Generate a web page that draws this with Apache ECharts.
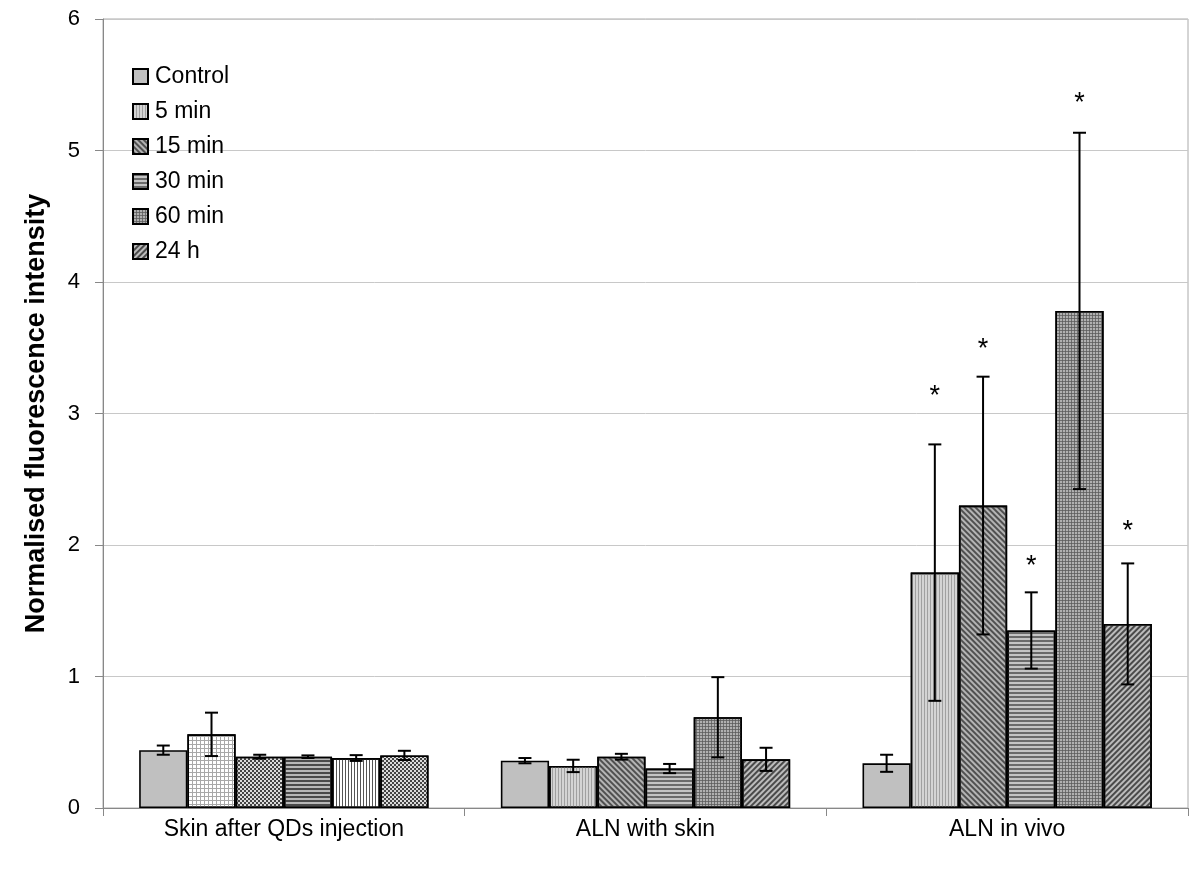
<!DOCTYPE html>
<html>
<head>
<meta charset="utf-8">
<script src="https://cdn.jsdelivr.net/npm/echarts@6/dist/echarts.min.js"></script>
<style>html,body{margin:0;padding:0;background:#fff;}#c{width:1200px;height:881px;}</style>
</head>
<body>
<div id="c"></div>
<script>
// ---- data ----
const categories = ['Skin after QDs injection', 'ALN with skin', 'ALN in vivo'];
const seriesNames = ['Control', '5 min', '15 min', '30 min', '60 min', '24 h'];
const controlVals = [0.44, 0.36, 0.34];
const min5Vals    = [0.56, 0.32, 1.79];
const min15Vals   = [0.39, 0.39, 2.30];
const min30Vals   = [0.39, 0.30, 1.35];
const min60Vals   = [0.38, 0.69, 3.78];
const h24Vals     = [0.40, 0.37, 1.40];
const controlErr = [0.035, 0.02, 0.065];
const min5Err    = [0.165, 0.047, 0.975];
const min15Err   = [0.015, 0.022, 0.98];
const min30Err   = [0.01, 0.035, 0.29];
const min60Err   = [0.022, 0.305, 1.355];
const h24Err     = [0.035, 0.088, 0.46];
// asterisk (significance) label levels, in axis units; null = none
const min5Star   = [null, null, 3.16];
const min15Star  = [null, null, 3.52];
const min30Star  = [null, null, 1.87];
const min60Star  = [null, null, 5.39];
const h24Star    = [null, null, 2.13];
const yTicks = [0, 1, 2, 3, 4, 5, 6];

const values = [controlVals, min5Vals, min15Vals, min30Vals, min60Vals, h24Vals];
const errs = [controlErr, min5Err, min15Err, min30Err, min60Err, h24Err];
const stars = [[null, null, null], min5Star, min15Star, min30Star, min60Star, h24Star];

// ---- styles ----
const FONT = 'Liberation Sans, Arial, sans-serif';
const gridPath = 'path://M0,0H4V1H1V4H0Z';
const styles = {
  control: { color: '#c0c0c0' },
  lightVert: { color: '#d4d4d4', decal: { symbol: 'rect', symbolSize: 1, color: '#a0a0a0', dashArrayX: [1, 2], dashArrayY: [1, 0] } },
  diagA: { color: '#b4b4b4', decal: { symbol: 'rect', symbolSize: 1, color: '#505050', dashArrayX: [1, 0], dashArrayY: [1.5, 1.5], rotation: Math.PI / 4 } },
  horiz: { color: '#c4c4c4', decal: { symbol: 'rect', symbolSize: 1, color: '#6a6a6a', dashArrayX: [1, 0], dashArrayY: [1.5, 1.5] } },
  gridDark: { color: '#b0b0b0', decal: { symbol: gridPath, symbolSize: 1, color: '#5a5a5a', dashArrayX: [3, 0], dashArrayY: [3, 0] } },
  diagB: { color: '#bcbcbc', decal: { symbol: 'rect', symbolSize: 1, color: '#4a4a4a', dashArrayX: [1, 0], dashArrayY: [1.5, 1.5], rotation: -Math.PI / 4 } },
  // group 1 variants
  lightGrid: { color: '#ffffff', decal: { symbol: gridPath, symbolSize: 1, color: '#a8a8a8', dashArrayX: [4, 0], dashArrayY: [4, 0] } },
  dots: { color: '#dcdcdc', decal: { symbol: 'rect', symbolSize: 1, color: '#444444', dashArrayX: [[2, 2], [0, 2, 2, 0]], dashArrayY: [2, 0] } },
  horizDark: { color: '#b8b8b8', decal: { symbol: 'rect', symbolSize: 1, color: '#4a4a4a', dashArrayX: [1, 0], dashArrayY: [1.5, 1.5] } },
  vertWhite: { color: '#ffffff', decal: { symbol: 'rect', symbolSize: 1, color: '#555555', dashArrayX: [1, 2], dashArrayY: [1, 0] } }
};
const seriesStyle = ['control', 'lightVert', 'diagA', 'horiz', 'gridDark', 'diagB'];
const group1Style = ['control', 'lightGrid', 'dots', 'horizDark', 'vertWhite', 'dots'];

function mkStyle(key) {
  const s = styles[key];
  const o = { color: s.color, borderColor: '#000', borderWidth: 1.6 };
  if (s.decal) o.decal = s.decal;
  return o;
}

const barSeries = seriesNames.map((name, si) => ({
  name: name,
  type: 'bar',
  barGap: '0%',
  barCategoryGap: '20%',
  itemStyle: mkStyle(seriesStyle[si]),
  emphasis: { disabled: true },
  data: values[si].map((v, ci) => ci === 0 ? { value: v, itemStyle: mkStyle(group1Style[si]) } : v),
  z: 2
}));

const errData = [];
const starData = [];
values.forEach((arr, si) => arr.forEach((v, ci) => {
  errData.push([ci, si, v, errs[si][ci]]);
  if (stars[si][ci] != null) starData.push([ci, si, stars[si][ci]]);
}));

function xPos(api, ci, si) {
  const center = api.coord([ci, 0])[0];
  const catW = api.size([1, 0])[0];
  const bw = catW * 0.8 / 6;
  return center + (si - 2.5) * bw;
}

const errSeries = {
  type: 'custom',
  name: 'err',
  z: 5,
  silent: true,
  data: errData,
  encode: { x: 0, y: 2 },
  renderItem: function (params, api) {
    const ci = api.value(0), si = api.value(1), v = api.value(2), e = api.value(3);
    const x = xPos(api, ci, si);
    const yt = api.coord([ci, v + e])[1];
    const yb = api.coord([ci, v - e])[1];
    const cw = 6.5;
    const st = { stroke: '#000', lineWidth: 2 };
    return {
      type: 'group',
      children: [
        { type: 'line', shape: { x1: x, y1: yt, x2: x, y2: yb }, style: st },
        { type: 'line', shape: { x1: x - cw, y1: yt, x2: x + cw, y2: yt }, style: st },
        { type: 'line', shape: { x1: x - cw, y1: yb, x2: x + cw, y2: yb }, style: st }
      ]
    };
  }
};

const starSeries = {
  type: 'custom',
  name: 'stars',
  z: 6,
  silent: true,
  data: starData,
  encode: { x: 0, y: 2 },
  renderItem: function (params, api) {
    const ci = api.value(0), si = api.value(1), lv = api.value(2);
    const x = xPos(api, ci, si);
    const y = api.coord([ci, lv])[1];
    return {
      type: 'text',
      style: { x: x, y: y + 4, text: '*', fill: '#000', font: '27px ' + FONT, textAlign: 'center', textVerticalAlign: 'middle' }
    };
  }
};

const chart = echarts.init(document.getElementById('c'), null, { renderer: 'canvas' });
chart.setOption({
  animation: false,
  backgroundColor: '#fff',
  textStyle: { fontFamily: FONT },
  grid: { left: 103, right: 12, top: 19, bottom: 73, show: true, borderColor: '#aaaaaa', borderWidth: 1, backgroundColor: 'transparent' },
  legend: {
    data: seriesNames,
    orient: 'vertical',
    left: 132,
    top: 65,
    padding: 0,
    itemWidth: 15,
    itemHeight: 15,
    itemGap: 12,
    icon: 'rect',
    textStyle: { fontSize: 23, color: '#000', fontFamily: FONT, lineHeight: 23, padding: [0, 0, 0, 2] },
    selectedMode: false
  },
  xAxis: {
    type: 'category',
    data: categories,
    axisLine: { lineStyle: { color: '#888', width: 1 } },
    axisTick: { show: true, length: 8, lineStyle: { color: '#888' } },
    axisLabel: { fontSize: 23, color: '#000', margin: 10, fontFamily: FONT },
    splitLine: { show: false }
  },
  yAxis: {
    type: 'value',
    min: 0,
    max: 6,
    interval: 1,
    name: 'Normalised fluorescence intensity',
    nameLocation: 'middle',
    nameGap: 53,
    nameTextStyle: { fontSize: 27, fontWeight: 'bold', color: '#000', fontFamily: FONT },
    axisLine: { show: true, lineStyle: { color: '#888', width: 1 } },
    axisTick: { show: true, length: 8, lineStyle: { color: '#888' } },
    axisLabel: { fontSize: 22, color: '#000', margin: 23, fontFamily: FONT,
      formatter: function (v) { return yTicks.indexOf(v) >= 0 ? String(v) : ''; } },
    splitLine: { show: true, lineStyle: { color: '#c8c8c8', width: 1 } }
  },
  series: barSeries.concat([errSeries, starSeries])
});
</script>
</body>
</html>
